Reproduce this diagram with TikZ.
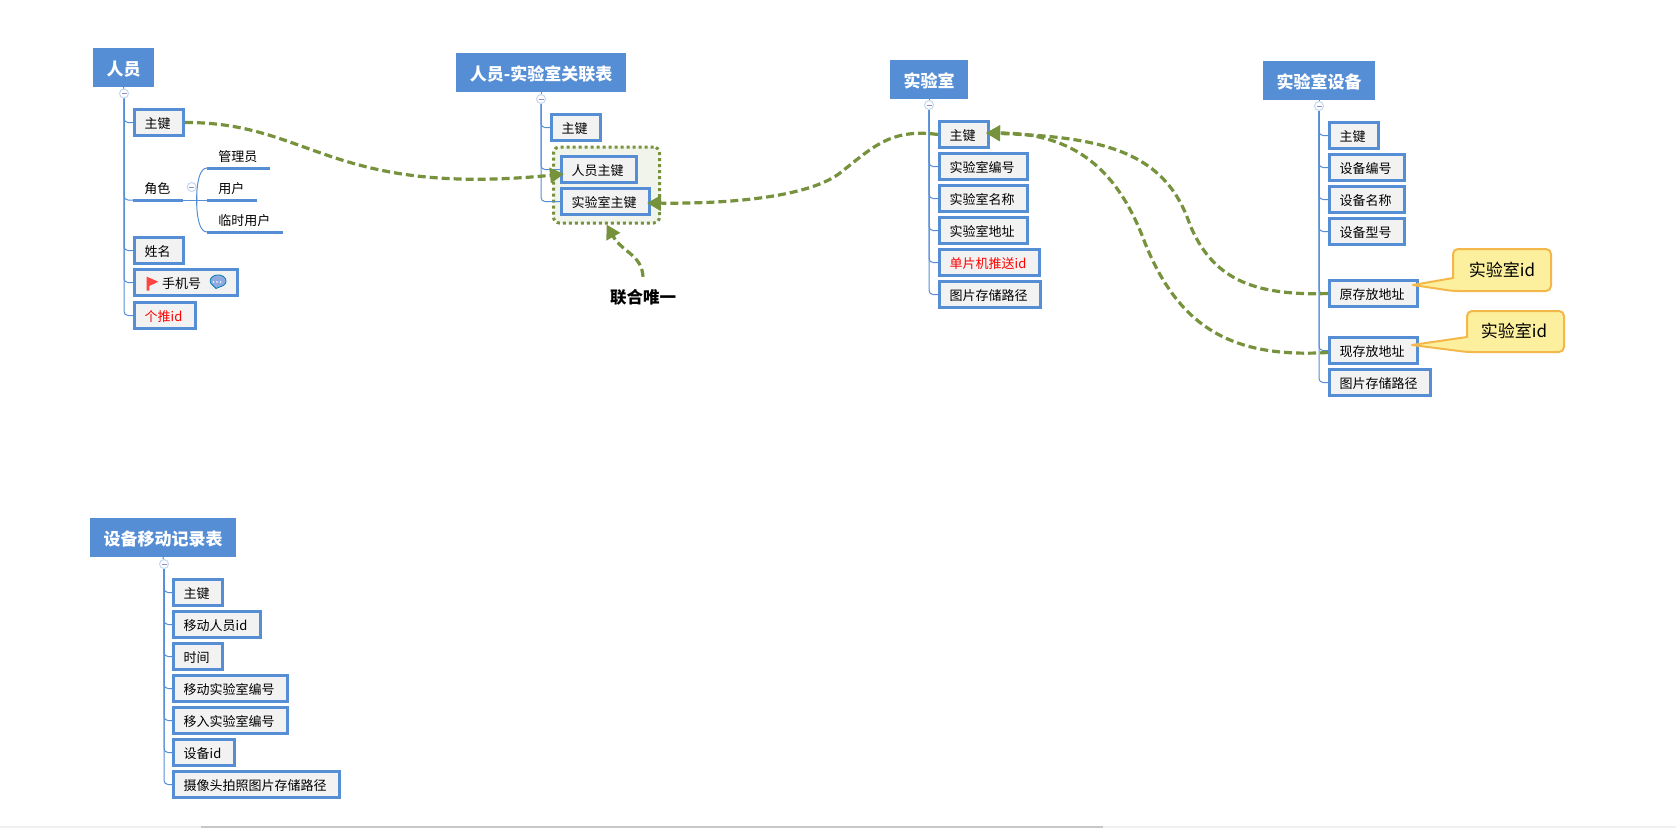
\documentclass[tikz,border=0pt]{standalone}
\usepackage{fontspec}
\setmainfont{Noto Sans CJK SC}
\usetikzlibrary{arrows.meta}
\definecolor{mapblue}{HTML}{558ED5}
\definecolor{linkgreen}{HTML}{76923C}
\definecolor{notefill}{HTML}{FCF09E}
\definecolor{noteline}{HTML}{F4B84A}
\tikzset{
  headbox/.style={fill=mapblue,text=white,inner sep=0pt,outer sep=0pt,minimum height=39pt,text height=18pt,text depth=2pt,font=\fontsize{17}{19}\selectfont\bfseries},
  fieldbox/.style={draw=mapblue,line width=3pt,fill=black!5,inner sep=0pt,minimum height=26pt,text height=13pt,text depth=1pt,font=\fontsize{13}{15}\selectfont,execute at end node={\kern3pt}},
  plainfield/.style={inner sep=0pt,outer sep=0pt,minimum height=26pt,text height=13pt,text depth=1pt,font=\fontsize{13}{15}\selectfont,execute at end node={\kern1.5pt}},
  subline/.style={mapblue,line width=3pt},
  branch/.style={mapblue,line width=1pt,rounded corners=4pt},
  toggle/.style={circle,draw=mapblue!35,fill=white,line width=1pt,inner sep=0pt,minimum size=9pt,
    path picture={\draw[mapblue!60!violet!70,line width=.8pt] ([xshift=-2.5pt]path picture bounding box.center)--([xshift=2.5pt]path picture bounding box.center);}},
  relation/.style={linkgreen,line width=3.2pt,dash pattern=on 8pt off 4pt,-{Triangle[length=14pt,width=15pt]}},
  notebox/.style={draw=noteline,fill=notefill,line width=2pt,line join=round},
  notetext/.style={inner sep=0pt,font=\fontsize{17}{19}\selectfont},
}
\begin{document}
\begin{tikzpicture}[x=1pt,y=-1pt]
\useasboundingbox (0,0) rectangle (1676,828);
\fill[black!6] (0,826) rectangle (1676,828);
\fill[black!22] (201,826) rectangle (1103,828);
% group behind the two key fields
\node[draw=linkgreen,line width=3pt,dash pattern=on 3pt off 3pt,rounded corners=6pt,fill=linkgreen!10,minimum width=106pt,minimum height=76pt] (lgroup) at (606.5,185) {};
% person
\node[headbox,minimum width=61pt] (phead) at (123.5,67.5) {人员};
\node[fieldbox,minimum width=49pt] (pkey) at (159,122.5) {主键};
\node[plainfield,minimum width=50pt] (prole) at (158,187) {角色};
\node[plainfield,minimum width=63pt] (padmin) at (238.5,155) {管理员};
\node[plainfield,minimum width=50pt] (puser) at (232,187) {用户};
\node[plainfield,minimum width=76pt] (ptemp) at (245,219) {临时用户};
\node[fieldbox,minimum width=49pt] (pname) at (159,250.5) {姓名};
\node[fieldbox,minimum width=103pt] (pphone) at (186,282.5) {手机号\kern6pt};
\node[fieldbox,minimum width=61pt,text=red] (ppush) at (165,315.5) {个推id};
\node[toggle] (ptoggle) at (124,93.5) {};
\node[toggle] (proletoggle) at (191.7,187) {};
\coordinate (rolejoin) at (197,200);
\draw[mapblue,line width=1pt] (phead.south)--(ptoggle);
\foreach \f in {pkey,pname,pphone,ppush}
  \draw[branch] (ptoggle.south) |- (\f.west);
\draw[branch] (ptoggle.south) |- (prole.south west);
\foreach \f in {prole,padmin,puser,ptemp}
  \draw[subline] (\f.south west)--(\f.south east);
\draw[mapblue,line width=1pt] (prole.south east)--(puser.south west);
\draw[mapblue,line width=1pt] (rolejoin) to[out=-90,in=180] (padmin.south west);
\draw[mapblue,line width=1pt] (rolejoin) to[out=90,in=180] (ptemp.south west);
% flag and bubble of the phone field
\fill[red!65!pink] (146.7,276.7)--(158.3,281.7)--(149.3,286)--(149.3,290.7)--(146.7,290.7)--cycle;
\draw[blue!30!cyan!70!black,fill=cyan!45!blue!45!white,line width=.8pt] (216,288.5)--(213,285.5) arc [start angle=130,end angle=410,x radius=8,y radius=6]--cycle;
\fill[white] (213.5,282) circle [radius=.9] (217,282) circle [radius=.9] (220.5,282) circle [radius=.9];
% person - lab table
\node[headbox,minimum width=170pt] (lhead) at (541,72.5) {人员-实验室关联表};
\node[fieldbox,minimum width=49pt] (lkey) at (576,127.5) {主键};
\node[fieldbox,minimum width=75pt] (lperson) at (599,169.5) {人员主键};
\node[fieldbox,minimum width=88pt] (llab) at (605.5,201.5) {实验室主键};
\node[toggle] (ltoggle) at (541,99) {};
\node[minimum height=40pt,inner sep=0pt,font=\fontsize{16.5}{18}\selectfont\bfseries] (lunique) at (643,297) {联合唯一};
\draw[mapblue,line width=1pt] (lhead.south)--(ltoggle);
\foreach \f in {lkey,lperson,llab}
  \draw[branch] (ltoggle.south) |- (\f.west);
% lab
\node[headbox,minimum width=78pt] (rhead) at (929,79.5) {实验室};
\node[fieldbox,minimum width=49pt] (rkey) at (964,134.5) {主键};
\node[fieldbox,minimum width=88pt] (rnum) at (983.5,166.5) {实验室编号};
\node[fieldbox,minimum width=88pt] (rname) at (983.5,198.5) {实验室名称};
\node[fieldbox,minimum width=88pt] (raddr) at (983.5,230.5) {实验室地址};
\node[fieldbox,minimum width=100pt,text=red] (rpush) at (989.5,262.5) {单片机推送id};
\node[fieldbox,minimum width=101pt] (rimg) at (990,294.5) {图片存储路径};
\node[toggle] (rtoggle) at (929,105) {};
\draw[mapblue,line width=1pt] (rhead.south)--(rtoggle);
\foreach \f in {rkey,rnum,rname,raddr,rpush,rimg}
  \draw[branch] (rtoggle.south) |- (\f.west);
% device
\node[headbox,minimum width=112pt] (dhead) at (1319,80.5) {实验室设备};
\node[fieldbox,minimum width=49pt] (dkey) at (1354,135.5) {主键};
\node[fieldbox,minimum width=75pt] (dnum) at (1367,167.5) {设备编号};
\node[fieldbox,minimum width=75pt] (dname) at (1367,199.5) {设备名称};
\node[fieldbox,minimum width=75pt] (dtype) at (1367,231.5) {设备型号};
\node[fieldbox,minimum width=88pt] (dold) at (1373.5,293.5) {原存放地址};
\node[fieldbox,minimum width=88pt] (dnew) at (1373.5,350.5) {现存放地址};
\node[fieldbox,minimum width=101pt] (dimg) at (1380,382.5) {图片存储路径};
\node[toggle] (dtoggle) at (1319,106) {};
\draw[mapblue,line width=1pt] (dhead.south)--(dtoggle);
\foreach \f in {dkey,dnum,dname,dtype,dold,dnew,dimg}
  \draw[branch] (dtoggle.south) |- (\f.west);
\draw[notebox] (1413,285)--(1453,278)[rounded corners=5pt]--(1453,249)--(1551,249)--(1551,291)--(1453,291)[sharp corners]--cycle;
\draw[notebox] (1412,345)--(1467,337)[rounded corners=5pt]--(1467,311)--(1564,311)--(1564,352)--(1467,352)[sharp corners]--cycle;
\node[notetext] (dnoteold) at (1502,270) {实验室id};
\node[notetext] (dnotenew) at (1514,331) {实验室id};
% move record
\node[headbox,minimum width=146pt] (mhead) at (163,537.5) {设备移动记录表};
\node[fieldbox,minimum width=49pt] (mkey) at (198,592.5) {主键};
\node[fieldbox,minimum width=87pt] (mperson) at (217,624.5) {移动人员id};
\node[fieldbox,minimum width=49pt] (mtime) at (198,656.5) {时间};
\node[fieldbox,minimum width=114pt] (mmoveout) at (230.5,688.5) {移动实验室编号};
\node[fieldbox,minimum width=114pt] (mmovein) at (230.5,720.5) {移入实验室编号};
\node[fieldbox,minimum width=61pt] (mdevice) at (204,752.5) {设备id};
\node[fieldbox,minimum width=166pt] (mimg) at (256.5,784.5) {摄像头拍照图片存储路径};
\node[toggle] (mtoggle) at (164,564) {};
\draw[mapblue,line width=1pt] (mhead.south)--(mtoggle);
\foreach \f in {mkey,mperson,mtime,mmoveout,mmovein,mdevice,mimg}
  \draw[branch] (mtoggle.south) |- (\f.west);
% relations
\coordinate (labbend) at (840,173);
\coordinate (oldbend) at (1190,225);
\coordinate (newbend) at (1145,243);
\draw[relation] (pkey.east) .. controls (310,122) and (330,197) .. ([shift={(4,4.5)}]lperson.west);
\draw[relation] (rkey.west) .. controls (890,128) and (872,148) .. (labbend) .. controls (814,193) and (750,204) .. ([shift={(-4,1.5)}]llab.east);
\draw[relation] (dold.west) .. controls (1250,296) and (1212,277) .. (oldbend) .. controls (1165,150) and (1100,137) .. ([shift={(-4,-1.5)}]rkey.east);
\draw[relation] ([yshift=-2pt]dnew.west) .. controls (1235,358) and (1180,330) .. (newbend) .. controls (1118,170) and (1075,133) .. ([shift={(-4,-1.5)}]rkey.east);
\draw[relation] (lunique.north) .. controls (642,255) and (622,252) .. (lgroup.south);
\end{tikzpicture}
\end{document}
